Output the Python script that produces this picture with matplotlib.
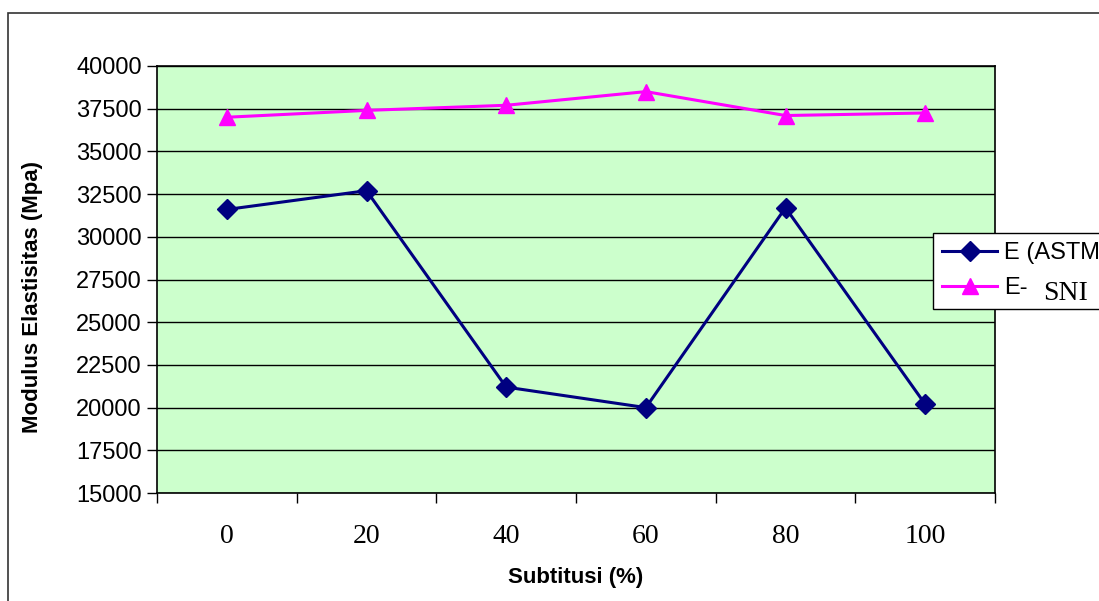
import matplotlib.pyplot as plt
from matplotlib.patches import Rectangle

# Data
subtitusi = [0, 20, 40, 60, 80, 100]
e_astm = [31600, 32700, 21200, 20000, 31700, 20200]
e_sni = [37000, 37400, 37700, 38500, 37100, 37250]
y_ticks = list(range(15000, 40001, 2500))

fig = plt.figure(figsize=(10.99, 6.01), dpi=100)
ax = fig.add_axes([157 / 1099, 1 - 493 / 601, 838 / 1099, 427 / 601])
ax.set_facecolor('#CCFFCC')

x = list(range(len(subtitusi)))
ax.plot(x, e_astm, color='#000080', lw=2.2, marker='D', ms=10,
        label='E (ASTM)', zorder=3)
ax.plot(x, e_sni, color='#FF00FF', lw=2.2, marker='^', ms=12,
        label='E-', zorder=3)

ax.set_xlim(-0.5, len(subtitusi) - 0.5)
ax.set_ylim(15000, 40000)
ax.set_yticks(y_ticks)
ax.set_yticklabels([str(v) for v in y_ticks], fontsize=17, family='Liberation Sans')
ax.set_xticks(x)
ax.set_xticklabels([str(v) for v in subtitusi], fontsize=20, family='Liberation Serif')
ax.set_xticks([i - 0.5 for i in range(len(subtitusi) + 1)], minor=True)
ax.tick_params(axis='x', which='major', length=0, pad=22)
ax.tick_params(axis='x', which='minor', length=7, width=1)
ax.tick_params(axis='y', length=7, width=1, pad=4)
ax.yaxis.grid(True, color='black', lw=1)
ax.set_axisbelow(True)
for s in ax.spines.values():
    s.set_color('black')
    s.set_linewidth(1.2)

# axis titles
fig.text(33 / 1099, 1 - 297 / 601, 'Modulus Elastisitas (Mpa)', fontsize=16,
         fontweight='bold', family='Liberation Sans', rotation=90,
         ha='center', va='center')
fig.text(576 / 1099, 1 - 577 / 601, 'Subtitusi (%)', fontsize=16,
         fontweight='bold', family='Liberation Sans', ha='center', va='center')

leg = ax.legend(loc='upper left', bbox_to_anchor=(933 / 1099, 1 - 233 / 601),
                bbox_transform=fig.transFigure, fancybox=False, edgecolor='black',
                framealpha=1, prop={'family': 'Liberation Sans', 'size': 17},
                borderpad=0.4, labelspacing=0.55, handlelength=2.3,
                handletextpad=0.3, borderaxespad=0)
leg.get_frame().set_linewidth(1)
fig.text(1043 / 1099, 1 - 291 / 601, 'SNI', fontsize=20, family='Liberation Serif',
         va='center_baseline', ha='left', zorder=10)

# outer chart border
fig.patches.append(Rectangle((8 / 1099, -0.1), 1.2, 1 - 13 / 601 + 0.1,
                             transform=fig.transFigure, fill=False,
                             edgecolor='#333333', lw=1.2))

fig.savefig('out.png', dpi=100)
